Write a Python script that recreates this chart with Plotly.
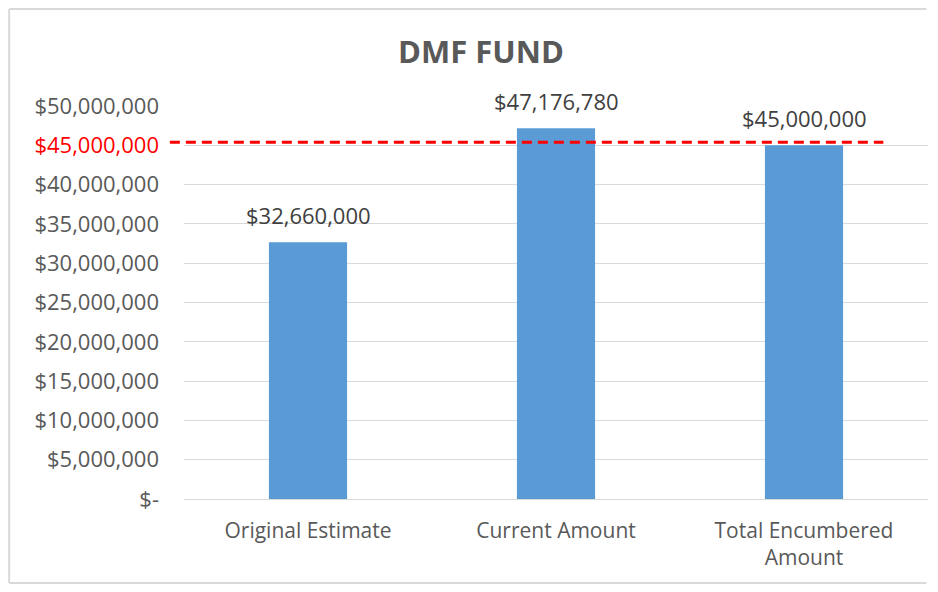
import plotly.graph_objects as go

categories = ["Original Estimate", "Current Amount", "Total Encumbered<br>Amount"]
values = [32660000, 47176780, 45000000]
value_labels = ["$32,660,000", "$47,176,780", "$45,000,000"]
threshold = 45000000
tick_vals = [0, 5000000, 10000000, 15000000, 20000000, 25000000, 30000000,
             35000000, 40000000, 45000000, 50000000]
tick_text = ["$-", "$5,000,000", "$10,000,000", "$15,000,000", "$20,000,000",
             "$25,000,000", "$30,000,000", "$35,000,000", "$40,000,000",
             "<span style='color:#ff0000'>$45,000,000</span>", "$50,000,000"]

FONT = "Open Sans"

fig = go.Figure()
fig.add_trace(go.Bar(
    x=categories, y=values,
    marker=dict(color="#5B9BD5", line=dict(width=0)),
    width=0.315,
))

for cat, val, lab in zip(categories, values, value_labels):
    fig.add_annotation(x=cat, y=val, text=lab, showarrow=False,
                       yanchor="middle", yshift=27,
                       font=dict(family=FONT, size=22, color="#404040"))

fig.add_shape(type="line", xref="paper", yref="y",
              x0=-0.019, x1=0.94,
              ysizemode="pixel", yanchor=threshold, y0=3, y1=3,
              line=dict(color="#ff0000", width=3, dash="10px,6px"))

# chart frame (left, top, bottom edges)
border = dict(color="#d9d9d9", width=2)
fig.add_shape(type="line", xref="paper", yref="paper", layer="below",
              x0=-0.235, x1=-0.235, y0=-0.2137, y1=1.247, line=border)
fig.add_shape(type="line", xref="paper", yref="paper", layer="below",
              x0=-0.235, x1=0.998, y0=1.247, y1=1.247, line=border)
fig.add_shape(type="line", xref="paper", yref="paper", layer="below",
              x0=-0.235, x1=0.998, y0=-0.2137, y1=-0.2137, line=border)

fig.update_layout(
    width=922, height=576,
    margin=dict(l=176, r=2, t=98, b=85),
    paper_bgcolor="white", plot_bgcolor="white",
    showlegend=False,
    title=dict(text="<b>DMF FUND</b>", x=0.513, xanchor="center",
               y=0.9236, yanchor="middle",
               font=dict(family=FONT, size=31, color="#595959")),
    bargap=0.685,
    xaxis=dict(showgrid=False, showline=False, ticks="", zeroline=False,
               tickfont=dict(family=FONT, size=21, color="#595959"),
               ticklabelstandoff=17),
    yaxis=dict(range=[0, 50000000], tickvals=tick_vals, ticktext=tick_text,
               showgrid=True, gridcolor="#d9d9d9", gridwidth=1,
               zeroline=True, zerolinecolor="#d9d9d9", zerolinewidth=1,
               showline=False, ticks="",
               tickfont=dict(family=FONT, size=22, color="#595959"),
               ticklabelstandoff=24),
)

fig.write_html("out.html")
